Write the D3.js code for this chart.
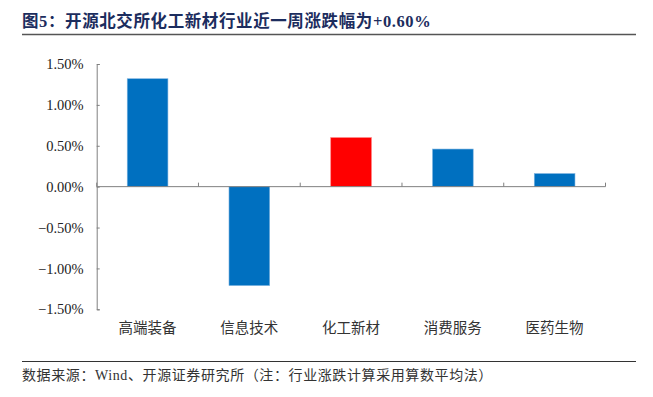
<!DOCTYPE html>
<html>
<head>
<meta charset="utf-8">
<script src="https://cdn.jsdelivr.net/npm/d3@7"></script>
<style>
  body { margin: 0; background: #fff; }
</style>
</head>
<body>
<div id="chart"></div>
<script>
const categories = ["高端装备", "信息技术", "化工新材", "消费服务", "医药生物"];
const changes = [1.32, -1.21, 0.60, 0.46, 0.16];
const highlight = "化工新材";
const yTicks = [-1.5, -1.0, -0.5, 0, 0.5, 1.0, 1.5];

const width = 653, height = 397;
const cjk = "'Noto Sans CJK SC', sans-serif";
const serif = "'Liberation Serif', 'Times New Roman', serif";

const svg = d3.select("#chart").append("svg")
    .attr("width", width).attr("height", height);

// title, latin parts in serif like the original
const title = svg.append("text")
    .attr("x", 22).attr("y", 27)
    .style("font-family", cjk).style("font-size", "16.5px").style("font-weight", "700")
    .style("letter-spacing", "0.6px")
    .style("fill", "#1c2d5e");
[["图", cjk], ["5", serif], ["：开源北交所化工新材行业近一周涨跌幅为", cjk], ["+0.60%", serif]]
    .forEach(([t, f]) => title.append("tspan").style("font-family", f).text(t));
svg.append("line")
    .attr("x1", 22).attr("x2", 636).attr("y1", 34.5).attr("y2", 34.5)
    .attr("stroke", "#555").attr("stroke-width", 1.5);

const x = d3.scaleBand()
    .domain(categories)
    .range([96.7, 605.5])
    .paddingInner(0.6)
    .paddingOuter(0.3);

const y = d3.scaleLinear().domain([-1.5, 1.5]).range([309.3, 64]);

// bars
svg.append("g").selectAll("rect")
    .data(categories)
    .join("rect")
    .attr("x", d => x(d))
    .attr("width", x.bandwidth())
    .attr("y", (d, i) => y(Math.max(0, changes[i])))
    .attr("height", (d, i) => Math.abs(y(changes[i]) - y(0)))
    .attr("fill", d => d === highlight ? "#ff0000" : "#0070c0")
    .attr("stroke", d => d === highlight ? "#ff8080" : "#7fb4e0")
    .attr("stroke-width", 0.6);

// y axis
const yAxis = svg.append("g")
    .attr("transform", "translate(96.7,0)")
    .call(d3.axisLeft(y).tickValues(yTicks).tickSize(-3).tickPadding(13)
        .tickFormat(d => d3.format(".2f")(d) + "%"));
yAxis.select(".domain").attr("stroke", "#808080");
yAxis.selectAll(".tick line").attr("stroke", "#808080");
yAxis.selectAll("text")
    .style("font-family", serif).style("font-size", "14.5px").style("fill", "#222");

// x axis at zero
const step = x.step();
const x0 = x.range()[0];
svg.append("line")
    .attr("x1", x0).attr("x2", x.range()[1])
    .attr("y1", y(0)).attr("y2", y(0))
    .attr("stroke", "#808080").attr("stroke-width", 1);
svg.append("g").selectAll("line")
    .data(d3.range(categories.length + 1))
    .join("line")
    .attr("x1", i => x0 + i * step).attr("x2", i => x0 + i * step)
    .attr("y1", y(0) - 4).attr("y2", y(0))
    .attr("stroke", "#808080");

// category labels
svg.append("g").selectAll("text")
    .data(categories)
    .join("text")
    .attr("x", d => x(d) + x.bandwidth() / 2)
    .attr("y", 333)
    .attr("text-anchor", "middle")
    .style("font-family", cjk).style("font-size", "14.5px").style("fill", "#333")
    .text(d => d);

// footer
svg.append("line")
    .attr("x1", 22).attr("x2", 636).attr("y1", 361.5).attr("y2", 361.5)
    .attr("stroke", "#333").attr("stroke-width", 1);
const foot = svg.append("text")
    .attr("x", 22).attr("y", 380)
    .style("font-family", cjk).style("font-size", "14px").style("fill", "#333")
    .style("letter-spacing", "0.6px");
[["数据来源：", cjk], ["Wind", serif], ["、开源证券研究所（注：行业涨跌计算采用算数平均法）", cjk]]
    .forEach(([t, f]) => foot.append("tspan").style("font-family", f).text(t));
</script>
</body>
</html>
